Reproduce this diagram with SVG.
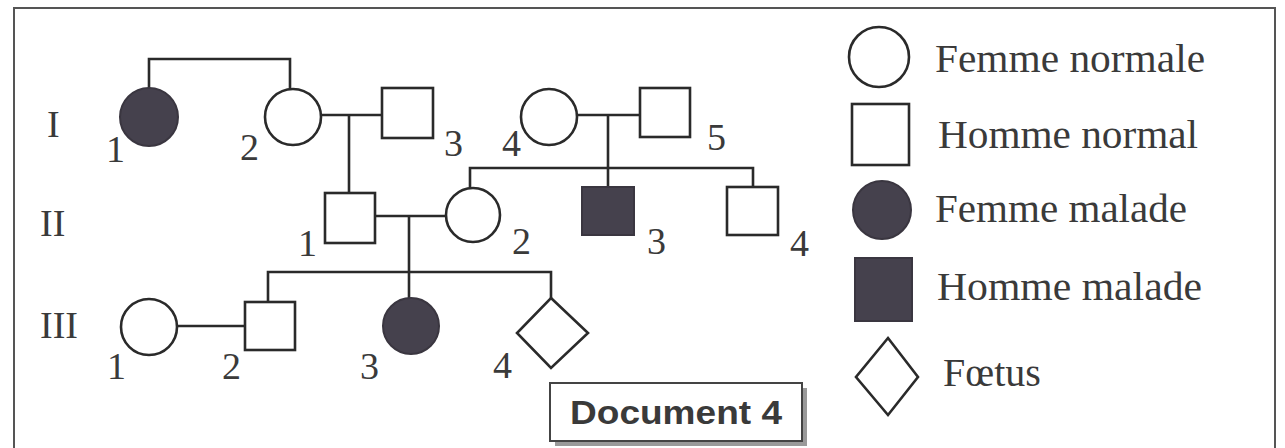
<svg xmlns="http://www.w3.org/2000/svg" width="1285" height="448" viewBox="0 0 1285 448">
<style>
.s{fill:#fff;stroke:#2a2a2a;stroke-width:2.6}
.a{fill:#45414d;stroke:#3a3640;stroke-width:2}
.c{fill:none;stroke:#2a2a2a;stroke-width:2.6}
.t{font-family:"Liberation Serif",serif;font-size:38px;fill:#3a3a3a}
.l{font-family:"Liberation Serif",serif;font-size:40px;fill:#3a3a3a}
</style>
<rect x="0" y="0" width="1285" height="448" fill="#fff"/>
<rect x="14" y="8" width="1261" height="450" fill="none" stroke="#555" stroke-width="2"/>
<g id="gen-labels">
<text class="t" x="47" y="137">I</text>
<text class="t" x="40" y="236">II</text>
<text class="t" x="40" y="338">III</text>
</g>
<g id="connectors">
<polyline class="c" points="149,89 149,59 290,59 290,90"/>
<line class="c" x1="320" y1="115" x2="382" y2="115"/>
<line class="c" x1="349" y1="115" x2="349" y2="193"/>
<line class="c" x1="577" y1="115" x2="640" y2="115"/>
<line class="c" x1="608" y1="115" x2="608" y2="187"/>
<polyline class="c" points="470,188 470,168 753,168 753,187"/>
<line class="c" x1="375" y1="216" x2="446" y2="216"/>
<line class="c" x1="409" y1="216" x2="409" y2="298"/>
<polyline class="c" points="268,302 268,272 551,272 551,298"/>
<line class="c" x1="178" y1="326" x2="245" y2="326"/>
</g>
<g id="I1"><circle class="a" cx="149" cy="117" r="29"/><text class="t" x="106" y="162">1</text></g>
<g id="I2"><circle class="s" cx="293" cy="117" r="28"/><text class="t" x="240" y="160">2</text></g>
<g id="I3"><rect class="s" x="382" y="88" width="51" height="50"/><text class="t" x="444" y="156">3</text></g>
<g id="I4"><circle class="s" cx="549" cy="117" r="28"/><text class="t" x="502" y="156">4</text></g>
<g id="I5"><rect class="s" x="640" y="88" width="50" height="49"/><text class="t" x="707" y="150">5</text></g>
<g id="II1"><rect class="s" x="325" y="193" width="50" height="50"/><text class="t" x="298" y="256">1</text></g>
<g id="II2"><circle class="s" cx="473" cy="215" r="27"/><text class="t" x="512" y="254">2</text></g>
<g id="II3"><rect class="a" x="582" y="187" width="52" height="48"/><text class="t" x="647" y="254">3</text></g>
<g id="II4"><rect class="s" x="727" y="187" width="51" height="48"/><text class="t" x="790" y="256">4</text></g>
<g id="III1"><circle class="s" cx="149" cy="327" r="28"/><text class="t" x="107" y="379">1</text></g>
<g id="III2"><rect class="s" x="245" y="302" width="50" height="48"/><text class="t" x="222" y="379">2</text></g>
<g id="III3"><circle class="a" cx="411" cy="326" r="28"/><text class="t" x="360" y="379">3</text></g>
<g id="III4"><polygon class="s" points="551,298 588,333 551,368 517,333"/><text class="t" x="493" y="378">4</text></g>
<g id="doc-label">
<rect x="555" y="388" width="252" height="58" fill="#9a9a9a"/>
<rect x="550" y="383" width="252" height="58" fill="#fff" stroke="#444" stroke-width="2"/>
<text x="676" y="424" text-anchor="middle" font-family="Liberation Sans,Arial,sans-serif" font-weight="bold" font-size="33" fill="#3a3a3a" textLength="212" lengthAdjust="spacingAndGlyphs">Document 4</text>
</g>
<g id="legend">
<g id="leg-fn"><circle class="s" cx="879" cy="57" r="30"/><text class="l" x="935" y="72" textLength="270" lengthAdjust="spacingAndGlyphs">Femme normale</text></g>
<g id="leg-hn"><rect class="s" x="852" y="104" width="57" height="61"/><text class="l" x="938" y="148" textLength="260" lengthAdjust="spacingAndGlyphs">Homme normal</text></g>
<g id="leg-fm"><circle class="a" cx="882" cy="210" r="29"/><text class="l" x="935" y="222" textLength="252" lengthAdjust="spacingAndGlyphs">Femme malade</text></g>
<g id="leg-hm"><rect class="a" x="855" y="258" width="57" height="63"/><text class="l" x="937" y="300" textLength="265" lengthAdjust="spacingAndGlyphs">Homme malade</text></g>
<g id="leg-f"><polygon class="s" points="888,338 918,377 888,415 856,377"/><text class="l" x="943" y="386">Fœtus</text></g>
</g>
</svg>
